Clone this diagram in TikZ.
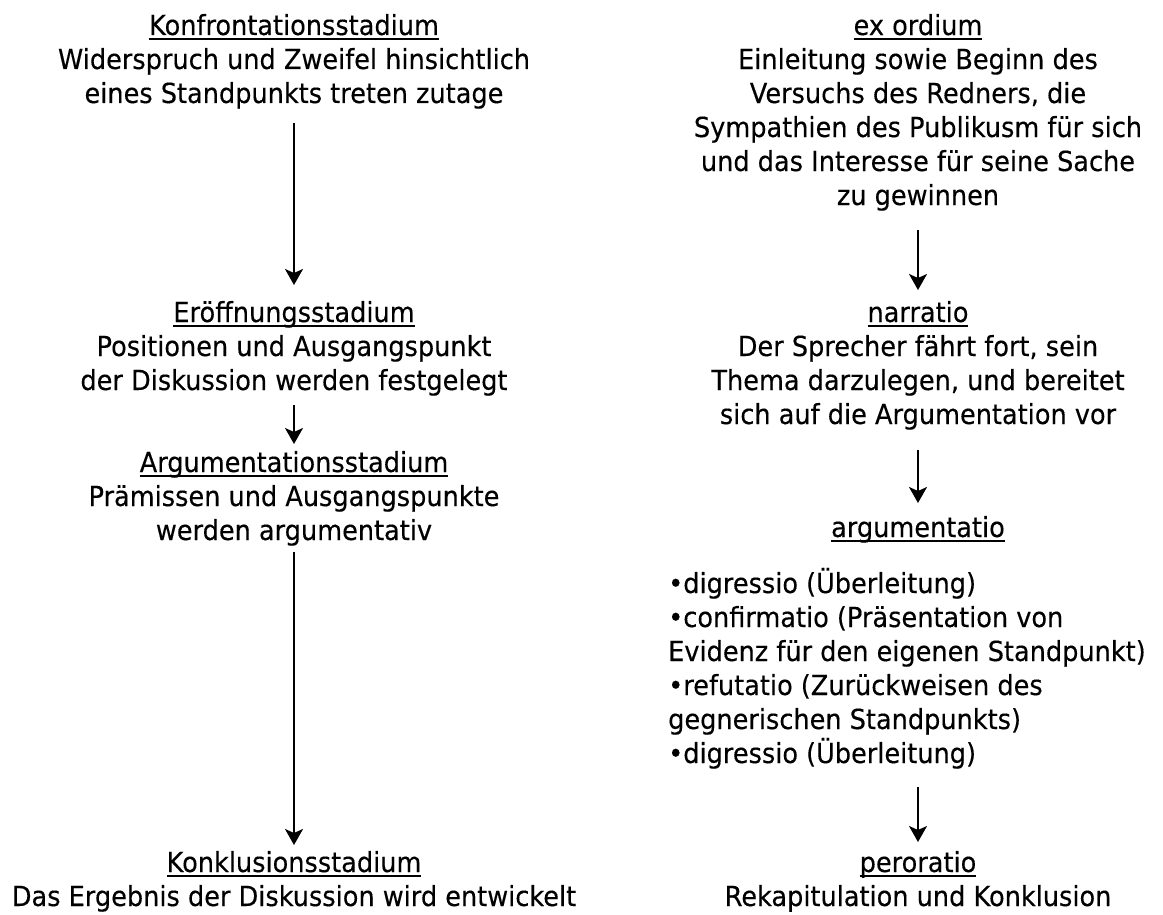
\documentclass[tikz,border=0pt]{standalone}
\usepackage{fontspec}
\usetikzlibrary{arrows.meta}
\newfontfamily\probefont{DejaVu Sans}
\newlength\probewd
\settowidth\probewd{\probefont\fontsize{27.6pt}{34pt}\selectfont Widerspruch und Zweifel hinsichtlich}
\pgfmathsetmacro\stretchfac{472/\probewd}
\edef\dosetfont{\noexpand\setmainfont[FakeStretch=\stretchfac,FakeBold=0.3]{DejaVu Sans}}
\dosetfont
\newcommand\myul[1]{\setbox0\hbox{#1}\rlap{\vrule height -3pt depth 5pt width \wd0}\box0}
\begin{document}
\begin{tikzpicture}[x=1pt,y=-1pt,
  txt/.style={font=\fontsize{27.6pt}{34pt}\selectfont, inner sep=0pt, align=center, anchor=base},
  conn/.style={-{Stealth[length=16pt,width=18pt,inset=4pt]}, line width=1.9pt}]
\useasboundingbox (0,0) rectangle (1163,915);
% left column (node anchor = baseline of last line)
\node[txt] (konf) at (294,103) {\myul{Konfrontationsstadium}\\Widerspruch und Zweifel hinsichtlich\\eines Standpunkts treten zutage};
\node[txt] (eroeff) at (294,390) {\myul{Eröffnungsstadium}\\Positionen und Ausgangspunkt\\der Diskussion werden festgelegt};
\node[txt] (argst) at (294,540) {\myul{Argumentationsstadium}\\Prämissen und Ausgangspunkte\\werden argumentativ};
\node[txt] (konkl) at (294,906) {\myul{Konklusionsstadium}\\Das Ergebnis der Diskussion wird entwickelt};
% right column
\node[txt] (exord) at (918,205) {\myul{ex ordium}\\Einleitung sowie Beginn des\\Versuchs des Redners, die\\Sympathien des Publikusm für sich\\und das Interesse für seine Sache\\zu gewinnen};
\node[txt] (narr) at (918,424) {\myul{narratio}\\Der Sprecher fährt fort, sein\\Thema darzulegen, und bereitet\\sich auf die Argumentation vor};
\node[txt] (argu) at (918,537) {\myul{argumentatio}};
\node[txt, align=left, anchor=base west] (list) at (668,763) {•digressio (Überleitung)\\•confirmatio (Präsentation von\\Evidenz für den eigenen Standpunkt)\\•refutatio (Zurückweisen des\\gegnerischen Standpunkts)\\•digressio (Überleitung)};
\node[txt] (peror) at (918,906) {\myul{peroratio}\\Rekapitulation und Konklusion};
% connectors
\draw[conn] (konf.south |- 0,123) -- (eroeff.north |- 0,285);
\draw[conn] (eroeff.south |- 0,405) -- (argst.north |- 0,444);
\draw[conn] (argst.south |- 0,552) -- (konkl.north |- 0,845);
\draw[conn] (exord.south |- 0,230) -- (narr.north |- 0,290);
\draw[conn] (narr.south |- 0,450) -- (argu.north |- 0,503);
\draw[conn] (list.south -| peror.north) ++(0,18) -- (peror.north |- 0,842);
\end{tikzpicture}
\end{document}
